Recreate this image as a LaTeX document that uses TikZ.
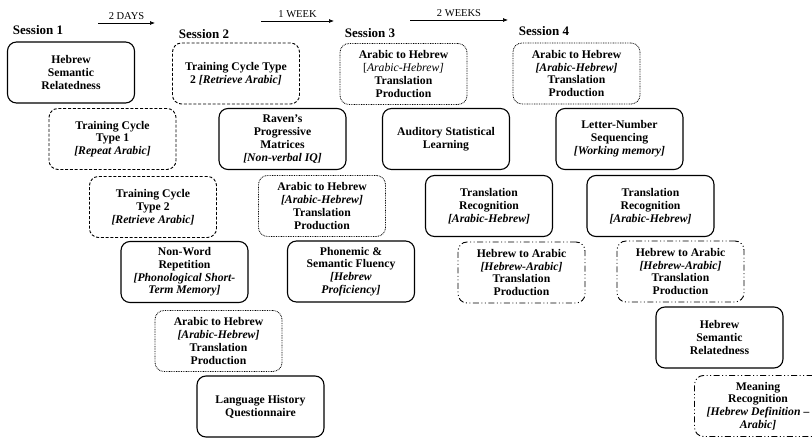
\documentclass[tikz,border=0pt]{standalone}
\usepackage{fontspec}
\setmainfont{Liberation Serif}
\usetikzlibrary{calc,arrows.meta}

\tikzset{
  task/.style={rectangle,rounded corners=9pt,minimum width=127pt,minimum height=61pt,
    inner sep=2pt,align=center,font=\fontsize{11.7}{12.8}\selectfont\bfseries},
  solidbox/.style={task,draw,line width=1.1pt},
  dashbox/.style={task,draw,line width=0.9pt,dash pattern=on 3pt off 1.8pt},
  dotbox/.style={task,draw,line width=0.8pt,dash pattern=on 0.8pt off 0.9pt},
  dashdotbox/.style={task,draw,line width=0.9pt,dash pattern=on 6pt off 2.5pt on 1pt off 2.5pt on 1pt off 2.5pt},
  session/.style={font=\fontsize{13}{15}\selectfont\bfseries},
  gaplabel/.style={above=0pt,font=\fontsize{10.5}{12}\selectfont},
  gap/.style={-{Latex[length=5pt,width=4pt]},line width=0.7pt},
}
\newcommand{\br}[1]{\textit{[#1]}}

\begin{document}
\begin{tikzpicture}[x=1pt,y=-1pt]
        \useasboundingbox (0,0) rectangle (812,438);
        \clip (0,0) rectangle (812,438);
        \begin{scope}
          % sessions and gaps
          \node[session] (S1) at (38,30) {Session 1};
          \node[session] (S2) at (204,34) {Session 2};
          \node[session] (S3) at (370,33) {Session 3};
          \node[session] (S4) at (544,31) {Session 4};
          \coordinate (D1a) at (98,23);  \coordinate (D1b) at (155,23);
          \coordinate (D2a) at (261,21); \coordinate (D2b) at (334,21);
          \coordinate (D3a) at (410,20); \coordinate (D3b) at (508,20);
          \draw[gap] (D1a) -- node[gaplabel] {2 DAYS} (D1b);
          \draw[gap] (D2a) -- node[gaplabel] {1 WEEK} (D2b);
          \draw[gap] (D3a) -- node[gaplabel] {2 WEEKS} (D3b);

          % session 1
          \node[solidbox] (HSR1) at (71,72.5) {Hebrew\\Semantic\\Relatedness};
          \node[dashbox] (TC1) at (112.5,139) {Training Cycle\\Type 1\\\br{Repeat Arabic}};
          \node[dashbox] (TC2a) at (153,207) {Training Cycle\\Type 2\\\br{Retrieve Arabic}};
          \node[solidbox] (NWR) at (184.5,272) {Non-Word\\Repetition\\\textit{[Phonological Short-}\\\textit{Term Memory]}};
          \node[dotbox] (AH1) at (218.5,341) {Arabic to Hebrew\\\br{Arabic-Hebrew}\\Translation\\Production};
          \node[solidbox] (LHQ) at (260.5,406.5) {Language History\\Questionnaire};

          % session 2
          \node[dashbox] (TC2b) at (236,73.5) {Training Cycle Type\\2 \br{Retrieve Arabic}};
          \node[solidbox] (RPM) at (282.5,139) {Raven's\\Progressive\\Matrices\\\br{Non-verbal IQ}};
          \node[dotbox] (AH2) at (322,206) {Arabic to Hebrew\\\br{Arabic-Hebrew}\\Translation\\Production};
          \node[solidbox] (PSF) at (351,271.5) {Phonemic \&\\Semantic Fluency\\\textit{[Hebrew}\\\textit{Proficiency]}};

          % session 3
          \node[dotbox] (AH3) at (403.5,74) {Arabic to Hebrew\\{\mdseries[\textit{Arabic-Hebrew]}}\\Translation\\Production};
          \node[solidbox] (ASL) at (446,139) {Auditory Statistical\\Learning};
          \node[solidbox] (TR3) at (489,206) {Translation\\Recognition\\\br{Arabic-Hebrew}};
          \node[dashdotbox] (HA3) at (521.5,272.5) {Hebrew to Arabic\\\br{Hebrew-Arabic}\\Translation\\Production};

          % session 4
          \node[dotbox] (AH4) at (576.5,73.5) {Arabic to Hebrew\\\br{Arabic-Hebrew}\\Translation\\Production};
          \node[solidbox] (LNS) at (619.5,139) {Letter-Number\\Sequencing\\\br{Working memory}};
          \node[solidbox] (TR4) at (650.5,206) {Translation\\Recognition\\\br{Arabic-Hebrew}};
          \node[dashdotbox] (HA4) at (680.5,271.5) {Hebrew to Arabic\\\br{Hebrew-Arabic}\\Translation\\Production};
          \node[solidbox] (HSR4) at (719.5,337.5) {Hebrew\\Semantic\\Relatedness};
          \node[dashdotbox] (MR) at (758,406) {Meaning\\Recognition\\\textit{[Hebrew Definition --}\\\textit{Arabic]}};
        \end{scope}
      \end{tikzpicture}
\end{document}
